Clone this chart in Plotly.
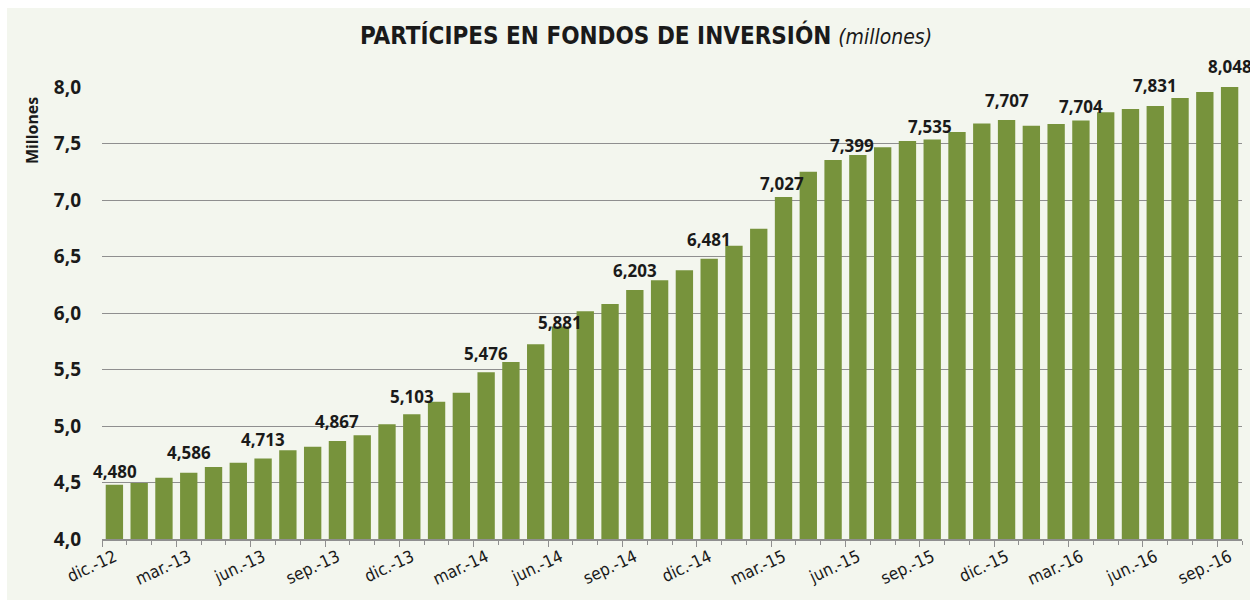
import plotly.graph_objects as go

# ---------------- data ----------------
month_names = ["ene.", "feb.", "mar.", "abr.", "may.", "jun.",
               "jul.", "ago.", "sep.", "oct.", "nov.", "dic."]
months = ["dic.-12"] + [f"{m}-{y}" for y in ["13", "14", "15"] for m in month_names] \
         + [f"{m}-16" for m in month_names[:9]]

values = [4.480, 4.495, 4.543, 4.586, 4.637, 4.675, 4.713, 4.785, 4.817, 4.867,
          4.918, 5.015, 5.103, 5.215, 5.295, 5.476, 5.566, 5.723, 5.881, 6.015,
          6.080, 6.203, 6.289, 6.378, 6.481, 6.596, 6.746, 7.027, 7.251, 7.354,
          7.399, 7.466, 7.522, 7.535, 7.602, 7.678, 7.707, 7.658, 7.673, 7.704,
          7.776, 7.805, 7.831, 7.903, 7.956, 8.048]

label_every = 3          # data labels and tick labels every third month
y_min, y_max = 4.0, 8.0
y_ticks = [4.0, 4.5, 5.0, 5.5, 6.0, 6.5, 7.0, 7.5, 8.0]

# ---------------- style ----------------
W, H = 1250, 602
ML, MR, MT, MB = 102, 8, 87, 63
BG = "#f3f6ee"
BAR = "#77933c"
GRID = "#8f8f8f"
TXT = "#1a1a1a"
NUM_FONT = "Noto Sans"
NARROW = "'Liberation Sans Narrow', 'Arial Narrow', 'DejaVu Sans Condensed', 'Roboto Condensed', Roboto, sans-serif"
# vertical offset (px) of each data label centre above the bar top
label_dy = [13, 20, 19, 20, 18, 19, 4, 20, 19, 13, 9, 13, 20, 14, 21, 21]
label_dx = [1, 0, 0, 0, 0, 0, 0, 0, 0, -2, -6, -2, 0, 0, 0, 0]

fig = go.Figure()
fig.add_trace(go.Bar(x=months, y=values, marker=dict(color=BAR, line=dict(width=0)),
                     hoverinfo="x+y", showlegend=False))
# helper trace for the long boundary ticks axis
fig.add_trace(go.Scatter(x=[], y=[], xaxis="x2", showlegend=False))

tick_text = [m if i % label_every == 0 else "" for i, m in enumerate(months)]

annotations = []
for k, i in enumerate(range(0, len(values), label_every)):
    v = values[i]
    annotations.append(dict(
        x=months[i], y=min(v, y_max), xref="x", yref="y",
        text=f"{v:.3f}".replace(".", ","), showarrow=False,
        xanchor="center", yanchor="middle",
        yshift=label_dy[k], xshift=label_dx[k],
        font=dict(family=NUM_FONT, size=17, color=TXT, weight="bold")))

# y-axis title
annotations.append(dict(
    x=(32 - ML) / (W - ML - MR), y=(H - MB - 131) / (H - MT - MB),
    xref="paper", yref="paper", text="<b>Millones</b>", showarrow=False,
    textangle=-90, xanchor="center", yanchor="middle",
    font=dict(family=NUM_FONT, size=16, color=TXT)))

pw, ph = W - ML - MR, H - MT - MB
fig.update_layout(
    width=W, height=H,
    margin=dict(l=ML, r=MR, t=MT, b=MB),
    paper_bgcolor="white", plot_bgcolor="rgba(0,0,0,0)",
    separators=",.",
    bargap=0.3,
    title=dict(
        text="<b>PARTÍCIPES EN FONDOS DE INVERSIÓN</b> <i><span style='font-size:21px'>(millones)</span></i>",
        x=646 / W, xanchor="center", xref="container",
        y=1 - 36 / H, yanchor="middle", yref="container",
        font=dict(family=NARROW, size=24, color=TXT)),
    xaxis=dict(type="category", range=[-0.5, len(months) - 0.5],
               tickvals=months, ticktext=tick_text, tickson="boundaries",
               ticks="outside", ticklen=4, tickwidth=1.3, tickcolor=GRID,
               tickangle=-25, showgrid=False, showline=True, linecolor=GRID, linewidth=1.5,
               tickfont=dict(family=NARROW, size=17, color=TXT)),
    xaxis2=dict(overlaying="x", anchor="y", side="bottom",
                range=[-0.5, len(months) - 0.5],
                tickvals=[i - 0.5 for i in range(0, len(months), label_every)],
                ticks="outside", ticklen=7, tickwidth=1.3, tickcolor=GRID,
                showticklabels=False, showgrid=False, showline=False, zeroline=False),
    yaxis=dict(range=[y_min, y_max], tickvals=y_ticks, tickformat=".1f",
               showgrid=True, gridcolor=GRID, gridwidth=1.3, zeroline=False,
               showline=False, ticks="", ticklabelstandoff=20,
               tickfont=dict(family=NUM_FONT, size=19, color=TXT, weight="bold")),
    annotations=annotations,
    shapes=[dict(type="rect", xref="paper", yref="paper", layer="below",
                 x0=(7 - ML) / pw, x1=(W - ML) / pw,
                 y0=(H - MB - 600) / ph, y1=(H - MB - 8) / ph,
                 fillcolor=BG, line=dict(width=0))],
)

fig.write_html("out.html", config={"displayModeBar": False},
               post_script="document.body.style.margin='0';document.body.style.overflow='hidden';")
